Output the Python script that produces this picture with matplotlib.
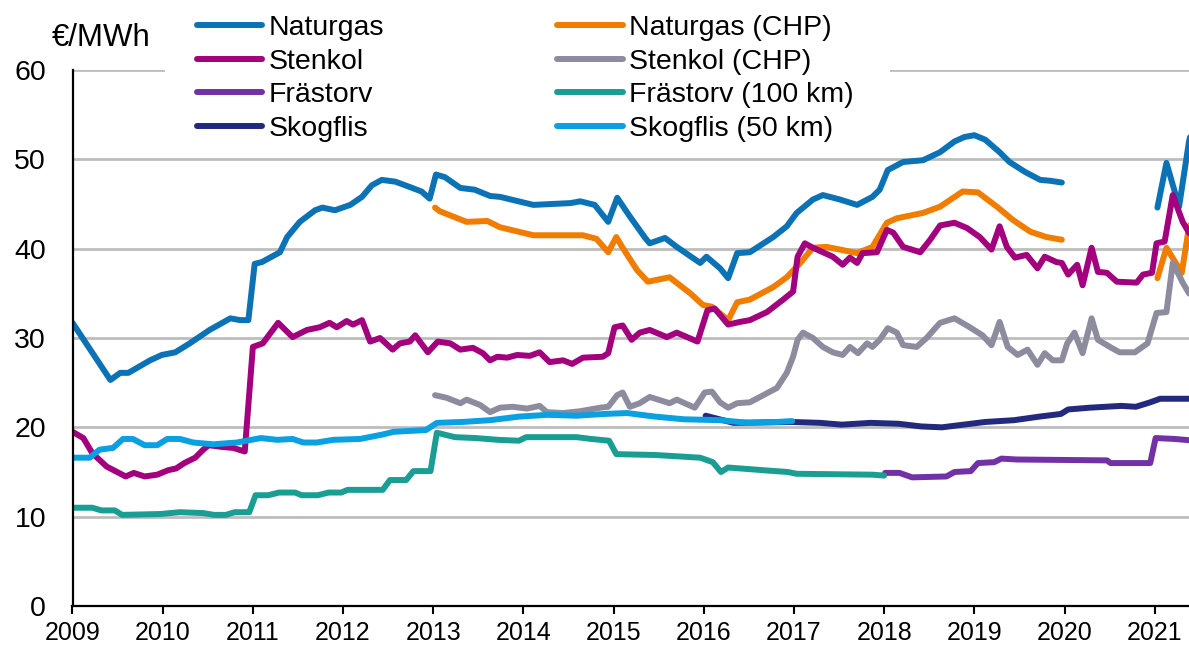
import numpy as np
import matplotlib
matplotlib.use("Agg")
import matplotlib.pyplot as plt
from matplotlib.patches import Rectangle

plt.rcParams['font.family'] = ['Liberation Sans', 'DejaVu Sans']

# decimal year, EUR/MWh (nan = gap in series)
naturgas_t = [2009.00, 2009.42, 2009.53, 2009.62, 2009.86, 2009.99, 2010.14, 2010.30, 2010.52, 2010.75,
              2010.86, 2010.95, 2011.02, 2011.10, 2011.30, 2011.38, 2011.52, 2011.69, 2011.77, 2011.91,
              2012.08, 2012.21, 2012.32, 2012.43, 2012.58, 2012.74, 2012.87, 2012.96, 2013.03, 2013.13,
              2013.30, 2013.46, 2013.63, 2013.74, 2014.11, 2014.52, 2014.63, 2014.79, 2014.94, 2015.04,
              2015.18, 2015.35, 2015.40, 2015.57, 2015.70, 2015.96, 2016.03, 2016.18, 2016.27, 2016.37,
              2016.51, 2016.77, 2016.92, 2017.03, 2017.21, 2017.32, 2017.51, 2017.70, 2017.87, 2017.95,
              2018.04, 2018.21, 2018.43, 2018.62, 2018.78, 2018.89, 2019.00, 2019.12, 2019.28, 2019.39,
              2019.56, 2019.73, 2019.84, 2019.97, 2020.50, 2021.03, 2021.13, 2021.27, 2021.38, 2021.45]
naturgas_v = [31.7, 25.3, 26.1, 26.1, 27.5, 28.1, 28.4, 29.4, 30.9, 32.2,
              32.0, 32.0, 38.3, 38.5, 39.6, 41.3, 43.0, 44.3, 44.6, 44.3,
              44.9, 45.8, 47.1, 47.7, 47.5, 46.9, 46.4, 45.6, 48.3, 48.0,
              46.8, 46.6, 45.9, 45.8, 44.9, 45.1, 45.3, 44.9, 43.0, 45.7,
              43.6, 41.2, 40.6, 41.2, 40.2, 38.4, 39.1, 37.8, 36.7, 39.5,
              39.6, 41.3, 42.5, 44.0, 45.5, 46.0, 45.5, 44.9, 45.8, 46.6,
              48.8, 49.7, 49.9, 50.8, 52.0, 52.5, 52.7, 52.2, 50.8, 49.7,
              48.6, 47.7, 47.6, 47.4, np.nan, 44.6, 49.6, 44.7, 52.0, 55.0]

ng_chp_t = [2013.02, 2013.07, 2013.37, 2013.60, 2013.74, 2014.11, 2014.66, 2014.81, 2014.94, 2015.03,
            2015.10, 2015.26, 2015.38, 2015.62, 2015.85, 2015.99, 2016.09, 2016.27, 2016.37, 2016.51,
            2016.77, 2016.92, 2017.07, 2017.21, 2017.36, 2017.51, 2017.70, 2017.87, 2018.03, 2018.14,
            2018.43, 2018.62, 2018.87, 2019.04, 2019.25, 2019.43, 2019.62, 2019.80, 2019.97, 2020.50,
            2021.03, 2021.13, 2021.30, 2021.37, 2021.45]
ng_chp_v = [44.6, 44.2, 43.0, 43.1, 42.4, 41.5, 41.5, 41.1, 39.6, 41.3,
            40.1, 37.6, 36.3, 36.8, 35.0, 33.7, 33.5, 32.0, 34.0, 34.3,
            35.7, 36.8, 38.4, 40.1, 40.2, 39.9, 39.5, 40.2, 42.9, 43.4,
            44.0, 44.7, 46.4, 46.3, 44.7, 43.2, 41.9, 41.3, 41.0, np.nan,
            36.7, 40.1, 37.3, 41.8, 45.0]

stenkol_t = [2009.00, 2009.12, 2009.22, 2009.38, 2009.59, 2009.68, 2009.80, 2009.94, 2010.06, 2010.15,
             2010.24, 2010.36, 2010.45, 2010.51, 2010.66, 2010.78, 2010.91, 2011.00, 2011.11, 2011.28,
             2011.44, 2011.60, 2011.74, 2011.85, 2011.93, 2012.04, 2012.11, 2012.21, 2012.30, 2012.41,
             2012.55, 2012.63, 2012.74, 2012.80, 2012.94, 2013.05, 2013.19, 2013.30, 2013.44, 2013.55,
             2013.63, 2013.71, 2013.82, 2013.93, 2014.07, 2014.18, 2014.29, 2014.44, 2014.54, 2014.66,
             2014.88, 2014.94, 2015.01, 2015.10, 2015.20, 2015.29, 2015.40, 2015.59, 2015.70, 2015.93,
             2016.04, 2016.12, 2016.27, 2016.40, 2016.51, 2016.70, 2016.88, 2016.99, 2017.04, 2017.12,
             2017.21, 2017.32, 2017.43, 2017.54, 2017.62, 2017.70, 2017.76, 2017.92, 2018.03, 2018.10,
             2018.21, 2018.40, 2018.51, 2018.62, 2018.78, 2018.92, 2019.06, 2019.19, 2019.28, 2019.36,
             2019.45, 2019.58, 2019.70, 2019.78, 2019.91, 2019.97, 2020.04, 2020.14, 2020.20, 2020.30,
             2020.37, 2020.47, 2020.58, 2020.80, 2020.87, 2020.97, 2021.02, 2021.11, 2021.20, 2021.31,
             2021.38, 2021.45]
stenkol_v = [19.5, 18.8, 17.1, 15.6, 14.5, 14.9, 14.5, 14.7, 15.2, 15.4,
             16.0, 16.6, 17.5, 18.0, 17.8, 17.7, 17.3, 29.0, 29.4, 31.7,
             30.1, 30.9, 31.2, 31.7, 31.2, 31.9, 31.5, 32.0, 29.6, 30.0,
             28.7, 29.4, 29.6, 30.3, 28.4, 29.6, 29.4, 28.7, 28.9, 28.3,
             27.5, 27.9, 27.8, 28.1, 28.0, 28.4, 27.3, 27.5, 27.1, 27.8,
             27.9, 28.3, 31.2, 31.4, 29.8, 30.6, 30.9, 30.1, 30.6, 29.6,
             33.1, 33.3, 31.5, 31.8, 32.0, 32.9, 34.3, 35.2, 39.1, 40.6,
             40.1, 39.6, 39.1, 38.2, 39.0, 38.4, 39.5, 39.6, 42.1, 41.8,
             40.2, 39.6, 41.0, 42.6, 42.9, 42.3, 41.3, 39.9, 42.5, 40.2,
             39.0, 39.3, 37.8, 39.1, 38.5, 38.4, 37.1, 38.2, 35.9, 40.1,
             37.4, 37.3, 36.3, 36.2, 37.1, 37.3, 40.6, 40.8, 46.0, 43.0,
             41.8, 41.0]

stenkol_chp_t = [2013.02, 2013.15, 2013.30, 2013.37, 2013.52, 2013.63, 2013.74, 2013.88, 2014.04, 2014.18,
                 2014.26, 2014.44, 2014.63, 2014.85, 2014.94, 2015.04, 2015.10, 2015.18, 2015.29, 2015.40,
                 2015.62, 2015.70, 2015.90, 2016.01, 2016.09, 2016.18, 2016.27, 2016.37, 2016.51, 2016.66,
                 2016.81, 2016.92, 2016.99, 2017.04, 2017.10, 2017.21, 2017.32, 2017.43, 2017.54, 2017.62,
                 2017.71, 2017.81, 2017.87, 2017.95, 2018.04, 2018.14, 2018.21, 2018.36, 2018.47, 2018.62,
                 2018.78, 2018.95, 2019.09, 2019.19, 2019.28, 2019.37, 2019.48, 2019.59, 2019.70, 2019.78,
                 2019.87, 2019.97, 2020.03, 2020.11, 2020.20, 2020.30, 2020.37, 2020.52, 2020.61, 2020.78,
                 2020.92, 2021.02, 2021.13, 2021.20, 2021.31, 2021.38, 2021.45]
stenkol_chp_v = [23.6, 23.3, 22.7, 23.1, 22.5, 21.7, 22.2, 22.3, 22.1, 22.4,
                 21.7, 21.6, 21.8, 22.2, 22.3, 23.6, 23.9, 22.3, 22.7, 23.4,
                 22.7, 23.1, 22.2, 23.9, 24.0, 22.8, 22.2, 22.7, 22.8, 23.6,
                 24.4, 26.1, 27.9, 29.8, 30.6, 30.0, 29.0, 28.4, 28.1, 29.0,
                 28.3, 29.4, 29.0, 29.8, 31.1, 30.6, 29.2, 29.0, 30.0, 31.7,
                 32.2, 31.2, 30.3, 29.2, 31.8, 29.0, 28.1, 28.7, 27.0, 28.3,
                 27.5, 27.5, 29.4, 30.6, 28.3, 32.2, 29.8, 28.9, 28.4, 28.4,
                 29.4, 32.8, 32.9, 38.4, 36.2, 35.0, 34.5]

frastorv_t = [2018.01, 2018.17, 2018.31, 2018.69, 2018.78, 2018.96, 2019.04, 2019.22, 2019.30, 2019.47,
              2020.47, 2020.51, 2020.95, 2021.01, 2021.22, 2021.45]
frastorv_v = [14.9, 14.9, 14.4, 14.5, 15.0, 15.1, 16.0, 16.1, 16.5, 16.4,
              16.3, 16.0, 16.0, 18.8, 18.7, 18.5]

frastorv100_t = [2009.00, 2009.22, 2009.32, 2009.47, 2009.55, 2009.98, 2010.19, 2010.45, 2010.57, 2010.70,
                 2010.80, 2010.96, 2011.03, 2011.17, 2011.29, 2011.47, 2011.54, 2011.72, 2011.84, 2011.98,
                 2012.05, 2012.44, 2012.52, 2012.70, 2012.78, 2012.97, 2013.04, 2013.24, 2013.47, 2013.72,
                 2013.95, 2014.03, 2014.59, 2014.75, 2014.95, 2015.03, 2015.47, 2015.96, 2016.10, 2016.19,
                 2016.27, 2016.66, 2016.93, 2017.03, 2017.87, 2018.00]
frastorv100_v = [11.0, 11.0, 10.7, 10.7, 10.2, 10.3, 10.5, 10.4, 10.2, 10.2,
                 10.5, 10.5, 12.4, 12.4, 12.7, 12.7, 12.4, 12.4, 12.7, 12.7,
                 13.0, 13.0, 14.1, 14.1, 15.1, 15.1, 19.4, 18.9, 18.8, 18.6,
                 18.5, 18.9, 18.9, 18.7, 18.5, 17.0, 16.9, 16.6, 16.1, 15.0,
                 15.5, 15.2, 15.0, 14.8, 14.7, 14.6]

skogflis_t = [2016.02, 2016.33, 2016.98, 2017.29, 2017.53, 2017.85, 2018.16, 2018.41, 2018.64, 2018.88,
              2019.12, 2019.44, 2019.72, 2019.96, 2020.04, 2020.28, 2020.63, 2020.79, 2020.95, 2021.06,
              2021.45]
skogflis_v = [21.3, 20.5, 20.6, 20.5, 20.3, 20.5, 20.4, 20.1, 20.0, 20.3,
              20.6, 20.8, 21.2, 21.5, 22.0, 22.2, 22.4, 22.3, 22.8, 23.2,
              23.2]

skogflis50_t = [2009.01, 2009.19, 2009.30, 2009.45, 2009.56, 2009.67, 2009.80, 2009.94, 2010.05, 2010.19,
                2010.34, 2010.56, 2010.82, 2011.09, 2011.27, 2011.44, 2011.56, 2011.71, 2011.89, 2012.19,
                2012.44, 2012.56, 2012.92, 2013.04, 2013.32, 2013.63, 2013.95, 2014.27, 2014.59, 2014.90,
                2015.15, 2015.46, 2015.78, 2016.18, 2016.50, 2016.81, 2016.98]
skogflis50_v = [16.6, 16.6, 17.5, 17.7, 18.7, 18.7, 18.0, 18.0, 18.7, 18.7,
                18.3, 18.1, 18.3, 18.8, 18.6, 18.7, 18.3, 18.3, 18.6, 18.7,
                19.2, 19.5, 19.7, 20.5, 20.6, 20.8, 21.2, 21.4, 21.3, 21.5,
                21.6, 21.2, 20.9, 20.8, 20.5, 20.6, 20.7]

series = [
    ("Naturgas", naturgas_t, naturgas_v, "#0b72b5"),
    ("Naturgas (CHP)", ng_chp_t, ng_chp_v, "#f07c00"),
    ("Stenkol", stenkol_t, stenkol_v, "#a3007d"),
    ("Stenkol (CHP)", stenkol_chp_t, stenkol_chp_v, "#8d8c9f"),
    ("Frästorv", frastorv_t, frastorv_v, "#7232a6"),
    ("Frästorv (100 km)", frastorv100_t, frastorv100_v, "#1a9e94"),
    ("Skogflis", skogflis_t, skogflis_v, "#232a7d"),
    ("Skogflis (50 km)", skogflis50_t, skogflis50_v, "#0aa0e2"),
]

fig = plt.figure(figsize=(11.89, 6.48), dpi=100)
ax = fig.add_axes([72.5 / 1189, 1 - 606 / 648, 1 - 72.5 / 1189, (606 - 70) / 648])

handles = {}
for name, t, v, col in series:
    ln, = ax.plot(t, v, color=col, lw=4.3, solid_joinstyle='round', solid_capstyle='round', label=name)
    handles[name] = ln

ax.set_xlim(2009, 2021.38)
ax.set_ylim(0, 60)
ax.set_xticks(range(2009, 2022))
ax.set_yticks(range(0, 61, 10))
ax.grid(axis='y', color='#bdbdbd', lw=2)
ax.set_axisbelow(True)
for s in ['top', 'right']:
    ax.spines[s].set_visible(False)
for s in ['left', 'bottom']:
    ax.spines[s].set_linewidth(1.6)
    ax.spines[s].set_color('black')
ax.tick_params(axis='y', length=0, pad=19, labelsize=20.5)
ax.tick_params(axis='x', direction='out', length=6, width=1.5, pad=5, labelsize=18)

fig.text(52 / 1189, 1 - 38 / 648, "€/MWh", fontsize=22.5, va='center', ha='left')

# white band behind the legend, it hides the top gridline there
fig.add_artist(Rectangle((165 / 1189, 1 - 150 / 648), (890 - 165) / 1189, 150 / 648,
                         transform=fig.transFigure, facecolor='white', edgecolor='none', zorder=1))

order = ["Naturgas", "Stenkol", "Frästorv", "Skogflis",
         "Naturgas (CHP)", "Stenkol (CHP)", "Frästorv (100 km)", "Skogflis (50 km)"]
leg = fig.legend([handles[k] for k in order], order, ncol=2, loc='upper left',
                 bbox_to_anchor=(197 / 1189, 1 - 15 / 648), frameon=False,
                 fontsize=20.5, borderpad=0, borderaxespad=0, handlelength=2.3,
                 handletextpad=0.2, columnspacing=6.1, labelspacing=0.27)
leg.set_zorder(5)

fig.savefig("out.png", dpi=100)
